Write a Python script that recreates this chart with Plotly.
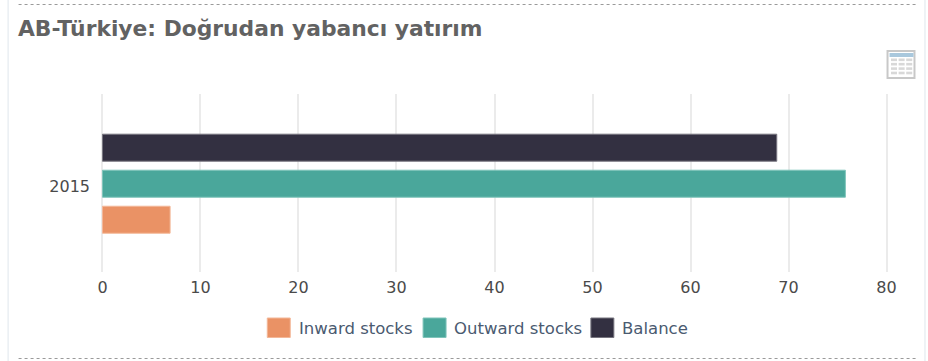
import plotly.graph_objects as go

W, H = 928, 361
L, R, T, B = 100.53, 888.47, 94, 272

title = "AB-Türkiye: Doğrudan yabancı yatırım"
years = ["2015"]
inward = [6.9]
outward = [75.8]
balance = [68.8]
x_ticks = [0, 10, 20, 30, 40, 50, 60, 70, 80]

C_IN, C_OUT, C_BAL = "#EA9265", "#4AA79B", "#333041"
BORDER = {C_IN: "#F3B798", C_OUT: "#7FC4BA", C_BAL: "#77757F"}
FONT = "DejaVu Sans"


def px(x):
    return (x - L) / (R - L)


def py(y):
    return (B - y) / (B - T)


def rect(x0, y0, x1, y1, fill="rgba(0,0,0,0)", line=None, lw=0):
    return dict(type="rect", xref="paper", yref="paper", layer="above",
                x0=px(x0), x1=px(x1), y0=py(y1), y1=py(y0), fillcolor=fill,
                line=dict(color=line or "rgba(0,0,0,0)", width=lw))


def hline(x0, x1, y, color, dash="dot"):
    return dict(type="line", xref="paper", yref="paper", layer="below",
                x0=px(x0), x1=px(x1), y0=py(y), y1=py(y),
                line=dict(color=color, width=1, dash=dash))


def vline(x, y0, y1, color):
    return dict(type="line", xref="paper", yref="paper", layer="below",
                x0=px(x), x1=px(x), y0=py(y0), y1=py(y1),
                line=dict(color=color, width=1))


fig = go.Figure()
for name, vals, c in [("Inward stocks", inward, C_IN),
                      ("Outward stocks", outward, C_OUT),
                      ("Balance", balance, C_BAL)]:
    fig.add_bar(y=years, x=vals, name=name, orientation="h",
                marker=dict(color=c, line=dict(color=BORDER[c], width=1)))

shapes = [
    hline(18, 917, 4.5, "#9a9a9a"),
    hline(18, 917, 358.5, "#9a9a9a"),
    vline(7.5, 0, H, "#DFE6EC"),
    vline(925.5, 0, H, "#DFE6EC"),
    # table icon
    rect(888, 51, 915, 78, fill="#ffffff", line="#C8C8C8", lw=2),
    rect(890, 53, 914, 57, fill="#A9C8DD"),
]
for r in range(4):
    for c in range(3):
        x0 = 891.5 + c * 7.6
        y0 = 58.5 + r * 4.4
        shapes.append(rect(x0, y0, x0 + 6, y0 + 2.6, fill="#D8D8D8"))

annotations = []
legend_items = [(267, 290, 299, "Inward stocks", C_IN),
                (423, 446, 454, "Outward stocks", C_OUT),
                (591, 614, 622, "Balance", C_BAL)]
for x0, x1, tx, label, c in legend_items:
    shapes.append(dict(type="rect", xref="paper", yref="paper", layer="above",
                       x0=px(x0), x1=px(x1), y0=py(337.5), y1=py(318),
                       fillcolor=c, line=dict(color=BORDER[c], width=1)))
    annotations.append(dict(xref="paper", yref="paper", x=px(tx), y=py(328),
                            xanchor="left", yanchor="middle", text=label,
                            showarrow=False, xshift=-2,
                            font=dict(family=FONT, size=16.5, color="#4A5A70")))

fig.update_layout(
    width=W, height=H,
    margin=dict(l=L, r=W - R, t=T, b=H - B, pad=0, autoexpand=False),
    paper_bgcolor="white", plot_bgcolor="white",
    title=dict(text=f"<b>{title}</b>", x=18 / W, xanchor="left", xref="container",
               y=1 - 28 / H, yanchor="middle", yref="container",
               font=dict(family=FONT, size=21.8, color="#626262")),
    showlegend=False,
    barmode="group", bargap=0.393, bargroupgap=0.25,
    font=dict(family=FONT, size=16, color="#444444"),
    xaxis=dict(range=[-0.15, 80.15], tickvals=x_ticks, showgrid=True, gridcolor="#EBEBEB",
               gridwidth=2, zeroline=False, showline=False, ticks="",
               tickfont=dict(size=16, color="#4A4A4A"), ticklabelstandoff=4),
    yaxis=dict(type="category", range=[-0.496, 0.504], showgrid=False, showline=False,
               zeroline=False, ticks="", tickfont=dict(size=16, color="#4A4A4A"),
               ticklabelstandoff=10, ticklabelshift=3),
    shapes=shapes, annotations=annotations,
)
fig.write_html("out.html", config=dict(displayModeBar=False),
               post_script="document.body.style.margin='0';document.body.style.overflow='hidden';")
